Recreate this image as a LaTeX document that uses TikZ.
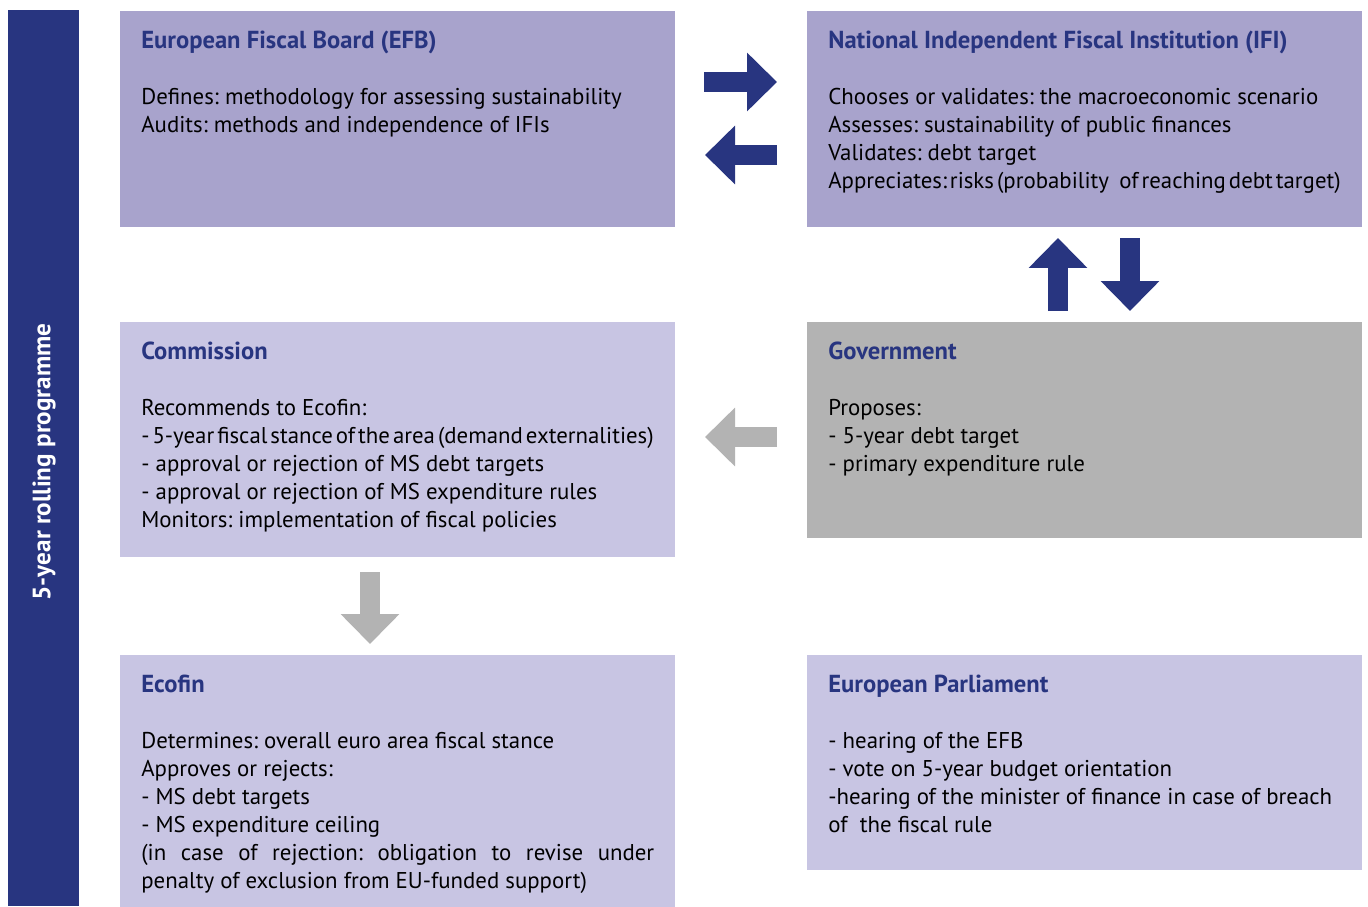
\documentclass[tikz,border=0pt]{standalone}
\usepackage{fontspec}
\setmainfont{PT Sans}
\usepackage{tikz}
\usetikzlibrary{arrows.meta, positioning, calc}
\definecolor{efnavy}{RGB}{40,53,128}
\definecolor{efdark}{RGB}{168,163,204}
\definecolor{eflight}{RGB}{200,197,227}
\definecolor{efgray}{RGB}{179,179,179}
\frenchspacing
\newcommand{\paneltitle}[1]{{\fontsize{14}{15.93}\selectfont\bfseries\color{efnavy}#1}}
\newcommand{\tightline}[1]{{\spaceskip=0.05em plus 1em\relax\makebox[10.25cm][s]{#1}}}
\tikzstyle{blockarrow} = [line width=0.4cm, -{Triangle[length=0.6cm, width=1.14cm]}]

\begin{document}
\begin{tikzpicture}[
  x=0.02cm, y=-0.02cm,
  every node/.style={font=\fontsize{13}{15.93}\selectfont},
  panel/.style={rectangle, inner sep=0pt, minimum width=11.1cm, anchor=north west},
  paneltext/.style={inner sep=0pt, anchor=north west, align=left}
]
\useasboundingbox (0,0) rectangle (1368,906);

% Side bar
\fill[efnavy] (8,10) rectangle (79,906);
\node[rotate=90, text=white, font=\fontsize{14.3}{16}\selectfont\bfseries] (rolling) at (44,462) {5-year rolling programme};

% Panels
\node[panel, fill=efdark, minimum height=4.32cm] (efb) at (120,11) {};
\node[panel, fill=efdark, minimum height=4.32cm] (ifi) at (807,11) {};
\node[panel, fill=eflight, minimum height=4.7cm] (com) at (120,322) {};
\node[panel, fill=efgray, minimum height=4.32cm] (gov) at (807,322) {};
\node[panel, fill=eflight, minimum height=5.1cm] (ecofin) at (120,655) {};
\node[panel, fill=eflight, minimum height=4.3cm] (ep) at (807,655) {};

% Panel texts
\node[paneltext] (efbtext) at ($(efb.north west)+(21,15.9)$) {\rule{0pt}{12pt}\paneltitle{European Fiscal Board (EFB)}\\[15.93pt]
Defines: methodology for assessing sustainability\\
Audits: methods and independence of IFIs};

\node[paneltext] (ifitext) at ($(ifi.north west)+(21,15.9)$) {\rule{0pt}{12pt}\paneltitle{National Independent Fiscal Institution (IFI)}\\[15.93pt]
Chooses or validates: the macroeconomic scenario\\
Assesses: sustainability of public finances\\
Validates: debt target\\
\tightline{Appreciates: risks (probability\hspace{0.45em}of reaching debt target)}};

\node[paneltext] (comtext) at ($(com.north west)+(21,15.9)$) {\rule{0pt}{12pt}\paneltitle{Commission}\\[15.93pt]
Recommends to Ecofin:\\
\tightline{- 5-year fiscal stance of the area (demand externalities)}\\
- approval or rejection of MS debt targets\\
- approval or rejection of MS expenditure rules\\
Monitors: implementation of fiscal policies};

\node[paneltext] (govtext) at ($(gov.north west)+(21,15.9)$) {\rule{0pt}{12pt}\paneltitle{Government}\\[15.93pt]
Proposes:\\
- 5-year debt target\\
- primary expenditure rule};

\node[paneltext, text width=10.26cm, align=justify] (ecofintext) at ($(ecofin.north west)+(21,15.9)$) {\rule{0pt}{12pt}\paneltitle{Ecofin}\\[15.93pt]
Determines: overall euro area fiscal stance\\
Approves or rejects:\\
- MS debt targets\\
- MS expenditure ceiling\\
(in case of rejection: obligation to revise under\linebreak penalty of exclusion from EU-funded support)};

\node[paneltext] (eptext) at ($(ep.north west)+(21,15.9)$) {\rule{0pt}{12pt}\paneltitle{European Parliament}\\[15.93pt]
- hearing of the EFB\\
- vote on 5-year budget orientation\\
-hearing of the minister of finance in case of breach\\
of\ \ the fiscal rule};

% Arrows between panels
\coordinate (efbout) at (704,82);
\coordinate (ifiin) at (777,82);
\coordinate (ifiout) at (777,155);
\coordinate (efbin) at (705,155);
\coordinate (govup) at (1058,311);
\coordinate (ifidown) at (1058,238);
\coordinate (ifiup) at (1130,238);
\coordinate (govin) at (1130,311);
\coordinate (govout) at (777,437);
\coordinate (comin) at (705,437);
\coordinate (comout) at (370,572);
\coordinate (ecofinin) at (370,644);

\draw[blockarrow, efnavy] (efbout) -- (ifiin);
\draw[blockarrow, efnavy] (ifiout) -- (efbin);
\draw[blockarrow, efnavy] (govup) -- (ifidown);
\draw[blockarrow, efnavy] (ifiup) -- (govin);
\draw[blockarrow, efgray] (govout) -- (comin);
\draw[blockarrow, efgray] (comout) -- (ecofinin);

\end{tikzpicture}
\end{document}
